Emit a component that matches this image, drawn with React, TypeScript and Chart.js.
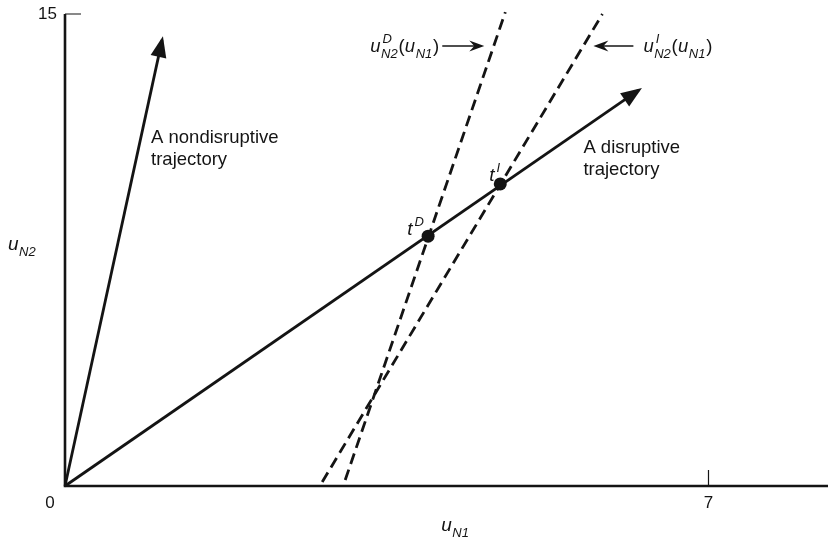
import React, { useEffect, useRef } from "react";
import { Chart, registerables } from "chart.js";

Chart.register(...registerables);

// ---- data ----
const xRange = [0, 8.3];
const yRange = [0, 15];
const xTicks = [7];
const xTickLabels = ["7"];
const yTicks = [15];
const yTickLabels = ["15"];
const originLabel = "0";

const nondisruptive = [
  { x: 0, y: 0 },
  { x: 1.056, y: 14.17 },
];
const disruptive = [
  { x: 0, y: 0 },
  { x: 6.24, y: 12.58 },
];
const curveD = [
  { x: 3.048, y: 0.19 },
  { x: 4.79, y: 15.06 },
];
const curveI = [
  { x: 2.798, y: 0.127 },
  { x: 5.846, y: 15.0 },
];
const equilibria = [
  { x: 3.95, y: 7.94 },
  { x: 4.735, y: 9.6 },
];

const INK = "#141414";
const FONT = '"Liberation Sans", Arial, sans-serif';

type Seg = { t?: string; it?: boolean; sup?: string; sub?: string };

function drawMath(ctx: CanvasRenderingContext2D, segs: Seg[], x: number, y: number, size: number) {
  const small = Math.round(size * 0.68);
  let cx = x;
  ctx.textBaseline = "alphabetic";
  ctx.textAlign = "left";
  for (const s of segs) {
    if (s.t) {
      ctx.font = `${s.it ? "italic " : ""}${size}px ${FONT}`;
      ctx.fillText(s.t, cx, y);
      cx += ctx.measureText(s.t).width + (s.it ? 0.5 : 0.3);
    } else {
      let w = 0;
      ctx.font = `italic ${small}px ${FONT}`;
      if (s.sup) {
        ctx.fillText(s.sup, cx + 1.5, y - size * 0.47);
        w = Math.max(w, ctx.measureText(s.sup).width + 1.5);
      }
      if (s.sub) {
        ctx.fillText(s.sub, cx, y + size * 0.3);
        w = Math.max(w, ctx.measureText(s.sub).width);
      }
      cx += w + 0.8;
    }
  }
}

const overlay = {
  id: "overlay",
  afterDatasetsDraw(chart: any) {
    const { ctx, scales } = chart;
    const xs = scales.x;
    const ys = scales.y;
    const X = (v: number) => xs.getPixelForValue(v);
    const Y = (v: number) => ys.getPixelForValue(v);
    const x0 = X(0);
    const y0 = Y(0);
    ctx.save();
    ctx.strokeStyle = INK;
    ctx.fillStyle = INK;

    // axes
    ctx.lineWidth = 2.6;
    ctx.lineJoin = "miter";
    ctx.beginPath();
    ctx.moveTo(x0, Y(yRange[1]));
    ctx.lineTo(x0, y0);
    ctx.lineTo(X(xRange[1]), y0);
    ctx.stroke();

    // inward ticks
    ctx.lineWidth = 1.2;
    ctx.beginPath();
    xTicks.forEach((v) => {
      ctx.moveTo(X(v), y0);
      ctx.lineTo(X(v), y0 - 16);
    });
    yTicks.forEach((v) => {
      ctx.moveTo(x0, Y(v));
      ctx.lineTo(x0 + 16, Y(v));
    });
    ctx.stroke();

    // tick labels
    ctx.font = `17px ${FONT}`;
    ctx.textBaseline = "middle";
    ctx.textAlign = "center";
    xTicks.forEach((v, i) => ctx.fillText(xTickLabels[i], X(v), y0 + 17));
    ctx.fillText(originLabel, x0 - 15, y0 + 17);
    ctx.textAlign = "right";
    yTicks.forEach((v, i) => ctx.fillText(yTickLabels[i], x0 - 8, Y(v)));

    // arrowheads on trajectories
    [nondisruptive, disruptive].forEach((pts) => {
      const a = pts[pts.length - 2];
      const b = pts[pts.length - 1];
      const ax = X(a.x), ay = Y(a.y), bx = X(b.x), by = Y(b.y);
      const len = Math.hypot(bx - ax, by - ay);
      const dx = (bx - ax) / len, dy = (by - ay) / len;
      const tipX = bx + dx * 4, tipY = by + dy * 4;
      const L = 21, H = 8;
      const baseX = tipX - dx * L, baseY = tipY - dy * L;
      ctx.beginPath();
      ctx.moveTo(tipX, tipY);
      ctx.lineTo(baseX - dy * H, baseY + dx * H);
      ctx.lineTo(baseX + dy * H, baseY - dx * H);
      ctx.closePath();
      ctx.fill();
    });

    // pointer arrows for the curve labels
    const pointer = (fromX: number, toX: number, yv: number) => {
      const py = Y(yv);
      const fx = X(fromX), tx = X(toX);
      const dir = Math.sign(tx - fx);
      ctx.lineWidth = 1.5;
      ctx.beginPath();
      ctx.moveTo(fx, py);
      ctx.lineTo(tx - dir * 6, py);
      ctx.stroke();
      ctx.beginPath();
      ctx.moveTo(tx, py);
      ctx.lineTo(tx - dir * 15, py - 5.5);
      ctx.lineTo(tx - dir * 10, py);
      ctx.lineTo(tx - dir * 15, py + 5.5);
      ctx.closePath();
      ctx.fill();
    };
    pointer(4.104, 4.561, 13.98);
    pointer(6.183, 5.748, 13.98);

    // text labels
    ctx.font = `18.5px ${FONT}`;
    ctx.textAlign = "left";
    ctx.textBaseline = "alphabetic";
    ctx.fillText("A nondisruptive", X(0.936), Y(10.9));
    ctx.fillText("trajectory", X(0.936), Y(10.2));
    ctx.fillText("A disruptive", X(5.639), Y(10.58));
    ctx.fillText("trajectory", X(5.639), Y(9.88));

    drawMath(ctx, [{ t: "u", it: true }, { sup: "D", sub: "N2" }, { t: "(" }, { t: "u", it: true }, { sub: "N1" }, { t: ")" }], X(3.32), Y(13.79), 18.5);
    drawMath(ctx, [{ t: "u", it: true }, { sup: "I", sub: "N2" }, { t: "(" }, { t: "u", it: true }, { sub: "N1" }, { t: ")" }], X(6.292), Y(13.79), 18.5);
    drawMath(ctx, [{ t: "t", it: true }, { sup: "D" }], X(3.723), Y(7.98), 19);
    drawMath(ctx, [{ t: "t", it: true }, { sup: "I" }], X(4.616), Y(9.69), 19);
    drawMath(ctx, [{ t: "u", it: true }, { sub: "N2" }], X(-0.62), Y(7.5), 19);
    drawMath(ctx, [{ t: "u", it: true }, { sub: "N1" }], X(4.093), Y(-1.43), 19);

    ctx.restore();
  },
};

export default function App() {
  const ref = useRef<HTMLCanvasElement | null>(null);
  useEffect(() => {
    document.body.style.margin = "0";
    const canvas = ref.current;
    if (!canvas) return;
    const line = (data: any[], dash: number[] = []) => ({
      type: "line" as const,
      data,
      borderColor: INK,
      borderWidth: 2.8,
      borderDash: dash,
      pointRadius: 0,
      fill: false,
      tension: 0,
      clip: false as any,
    });
    const chart = new Chart(canvas, {
      type: "scatter",
      data: {
        datasets: [
          line(nondisruptive) as any,
          line(disruptive) as any,
          line(curveD, [11, 6]) as any,
          line(curveI, [11, 6]) as any,
          {
            type: "scatter",
            data: equilibria,
            pointRadius: 6.5,
            pointBackgroundColor: INK,
            pointBorderColor: INK,
            pointBorderWidth: 0,
            showLine: false,
            clip: false,
          } as any,
        ],
      },
      options: {
        animation: false,
        responsive: false,
        devicePixelRatio: 1,
        layout: { autoPadding: false, padding: { left: 65, top: 14, right: 0, bottom: 55 } },
        plugins: { legend: { display: false }, tooltip: { enabled: false } },
        events: [],
        scales: {
          x: { type: "linear", min: xRange[0], max: xRange[1], display: false },
          y: { type: "linear", min: yRange[0], max: yRange[1], display: false },
        },
      },
      plugins: [overlay],
    });
    return () => chart.destroy();
  }, []);
  return (
    <div style={{ position: "absolute", left: 0, top: 0, width: 828, height: 541, background: "#fff" }}>
      <canvas ref={ref} width={828} height={541} style={{ width: 828, height: 541, display: "block" }} />
    </div>
  );
}
